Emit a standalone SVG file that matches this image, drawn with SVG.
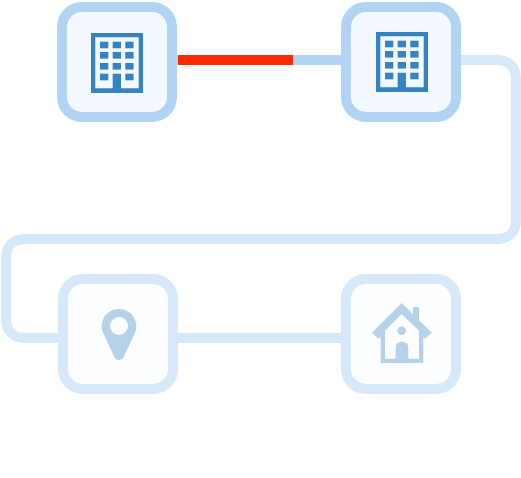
<svg xmlns="http://www.w3.org/2000/svg" width="521" height="478" viewBox="0 0 521 478">
<style>
.edge{fill:none;stroke-width:10}
.on{stroke:#b1d4f5}
.off{stroke:#d6e8f9}
.hot{stroke:#ff2a00}
.box{stroke-width:10}
.box.a{fill:#f4f9ff;stroke:#b1d4f5}
.box.b{fill:#fbfdff;stroke:#d6e8f9}
.dark{fill:#3483c5}
.pale{fill:#b5d2e9;fill-rule:evenodd}
</style>
<defs>
<g id="building">
<path class="dark" fill-rule="evenodd" d="M0 0H52V60H0ZM4.3 4.3V55.3H21.700V40.700H30V55.300H47.700V4.300Z"/>
<rect class="dark" x="9" y="8.700" width="8.300" height="6.600"/>
<rect class="dark" x="21.700" y="8.700" width="8.300" height="6.600"/>
<rect class="dark" x="34.300" y="8.700" width="8.300" height="6.600"/>
<rect class="dark" x="9" y="19" width="8.300" height="6.600"/>
<rect class="dark" x="21.700" y="19" width="8.300" height="6.600"/>
<rect class="dark" x="34.300" y="19" width="8.300" height="6.600"/>
<rect class="dark" x="9" y="30" width="8.300" height="6.600"/>
<rect class="dark" x="21.700" y="30" width="8.300" height="6.600"/>
<rect class="dark" x="34.300" y="30" width="8.300" height="6.600"/>
<rect class="dark" x="9" y="40.700" width="8.300" height="6.600"/>
<rect class="dark" x="34.300" y="40.700" width="8.300" height="6.600"/>
</g>
</defs>
<rect width="521" height="478" fill="#fff"/>
<g id="connectors">
<path class="edge on" d="M172 60H346"/>
<path class="edge hot" d="M178 60H293"/>
<path class="edge off" d="M456 60H496Q516 60 516 80V219Q516 239 496 239H26Q6 239 6 259V318Q6 338 26 338H63"/>
<path class="edge off" d="M173 338H346"/>
</g>
<g id="node-building-1">
<rect class="box a" x="62" y="7" width="110" height="110" rx="20"/>
<use href="#building" x="91" y="33"/>
</g>
<g id="node-building-2">
<rect class="box a" x="346" y="7" width="110" height="110" rx="20"/>
<use href="#building" x="376" y="32"/>
</g>
<g id="node-pin">
<rect class="box b" x="63" y="279" width="110" height="110" rx="20"/>
<path class="pale" d="M119 309C128.700 309 136.300 316.700 136.300 326.300C136.300 329 135.700 331 134.700 333.300L123.500 357.300C121.600 361 116.400 361 114.500 357.300L103.300 333.300C102.300 331 101.700 329 101.700 326.300C101.700 316.700 109.300 309 119 309ZM119 317A9 9 0 1 0 119 335A9 9 0 1 0 119 317Z"/>
</g>
<g id="node-house">
<rect class="box b" x="346" y="279" width="110" height="110" rx="20"/>
<path class="pale" d="M401.700 303L413 314.300V308.500Q413 307 414.500 307H417.500Q419 307 419 308.500V320.300L431.700 332.500L425 338.700L423.300 337V363H380.700V336.500L378.300 338.700L372 332.500ZM401.700 314L385 330.700V358.700H395.700V348Q395.700 341.700 402 341.700Q408.300 341.700 408.300 348V358.700H419V330.700Z"/>
<circle class="pale" cx="401.700" cy="330.700" r="4.300"/>
</g>
</svg>
